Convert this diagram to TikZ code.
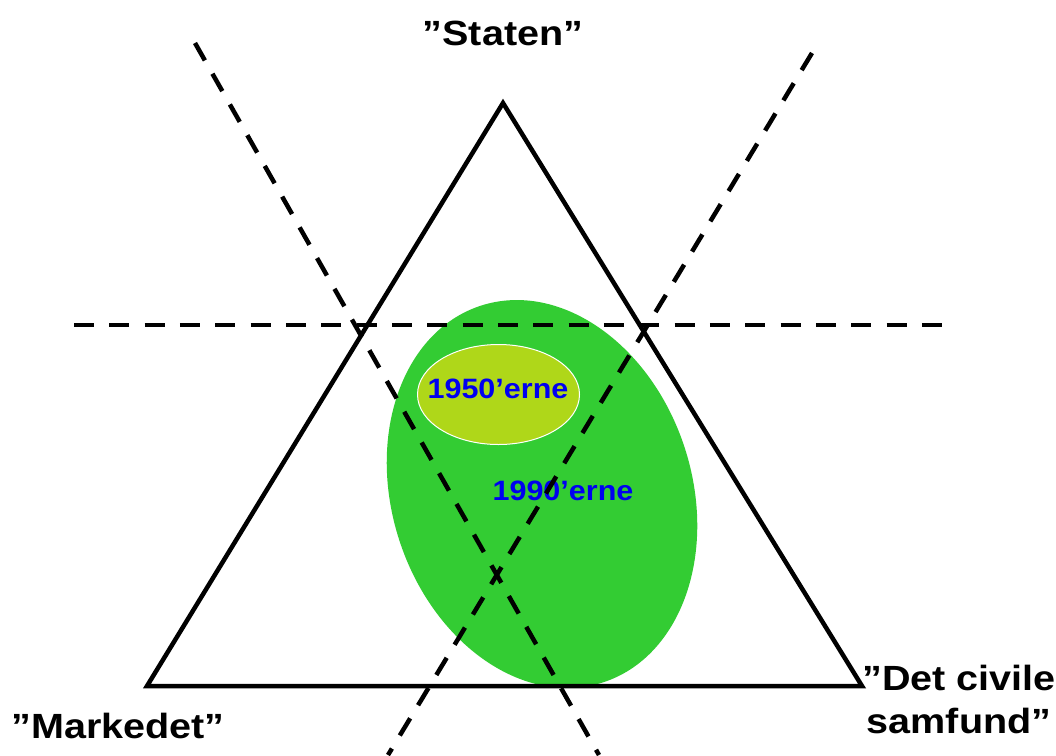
\documentclass[tikz,border=0pt]{standalone}
\usepackage{fontspec}
\setmainfont{Liberation Sans}
\usepackage{graphicx}
\definecolor{bggreen}{RGB}{51,204,51}
\definecolor{ygreen}{RGB}{175,215,25}
\definecolor{txtblue}{RGB}{0,0,240}
\begin{document}
\begin{tikzpicture}[x=1pt,y=-1pt,
  edge/.style={line width=4.5pt, line join=miter},
  dashline/.style={line width=4.5pt, dash pattern=on 20pt off 15.33pt},
  corner/.style={font=\bfseries\fontsize{35}{43}\selectfont, text=black, inner sep=0pt, align=center},
  era/.style={font=\bfseries\fontsize{28}{32}\selectfont, text=txtblue, inner sep=0pt}]
\useasboundingbox (0,0) rectangle (1056,755);
\fill[white] (0,0) rectangle (1056,755);
% big green ellipse
\fill[bggreen, shift={(542,494)}, rotate=18] (0,0) ellipse [x radius=150pt, y radius=198pt];
\filldraw[fill=ygreen, draw=white, line width=1pt] (498.5,394.5) ellipse [x radius=81pt, y radius=50pt];
% era labels
\node[era, anchor=base] (e50) at (498,398) {\scalebox{1.09}[1]{1950’erne}};
\node[era, anchor=base] (e90) at (563,500) {\scalebox{1.09}[1]{1990’erne}};
% corner labels
\node[corner, anchor=base] (staten) at (503,45) {\scalebox{1.13}[1]{”Staten”}};
\node[corner, anchor=base] (marked) at (118,738) {\scalebox{1.13}[1]{”Markedet”}};
\node[corner, anchor=north] (civil) at (959,665) {\scalebox{1.13}[1]{”Det civile}\\\scalebox{1.13}[1]{samfund”}};
% triangle
\coordinate (S) at (503,103);
\coordinate (L) at (147,686);
\coordinate (R) at (862,686);
\draw[edge] (S) -- (L) -- (R) -- cycle;
% dashed lines
\coordinate (h1) at (74,325);
\coordinate (h2) at (945,325);
\coordinate (d1a) at (195,43);
\coordinate (d1b) at (599,755);
\coordinate (d2a) at (812,53);
\coordinate (d2b) at (388,755);
\draw[dashline] (h1) -- (h2);
\draw[dashline] (d1a) -- (d1b);
\draw[dashline] (d2a) -- (d2b);
\end{tikzpicture}
\end{document}
